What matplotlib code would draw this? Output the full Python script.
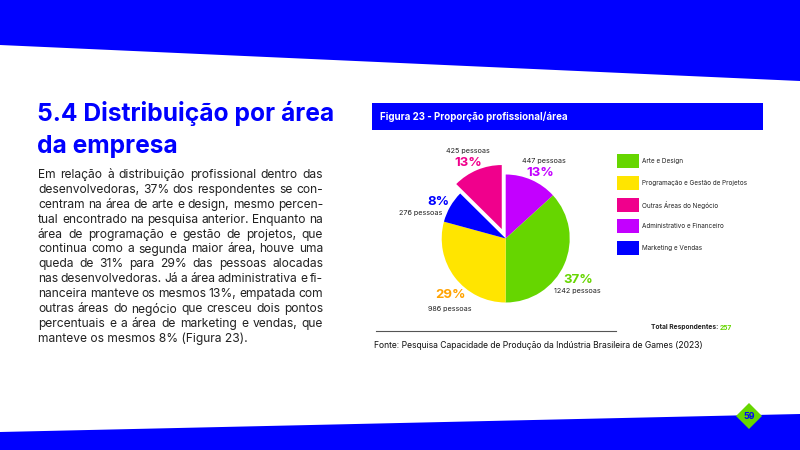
import matplotlib.pyplot as plt
from matplotlib.patches import Polygon, Rectangle

# data
areas = ['Administrativo e Financeiro', 'Arte e Design', 'Programação e Gestão de Projetos',
         'Marketing e Vendas', 'Outras Áreas do Negócio']
pessoas = [447, 1242, 986, 276, 425]
pct_labels = ['13%', '37%', '29%', '8%', '13%']
colors = ['#C300FF', '#66D600', '#FFE500', '#0000FF', '#F0008C']
label_colors = ['#C300FF', '#66D600', '#FFA200', '#0000FF', '#F0008C']
explode = [0, 0, 0, 0, 0.16]
legend_order = ['Arte e Design', 'Programação e Gestão de Projetos', 'Outras Áreas do Negócio',
                'Administrativo e Financeiro', 'Marketing e Vendas']
total_resp = 257

title_lines = ['5.4 Distribuição por área', 'da empresa']
body_lines = [
    'Em relação à distribuição profissional dentro das',
    'desenvolvedoras, 37% dos respondentes se con-',
    'centram na área de arte e design, mesmo percen-',
    'tual encontrado na pesquisa anterior. Enquanto na',
    'área de programação e gestão de projetos, que',
    'continua como a segunda maior área, houve uma',
    'queda de 31% para 29% das pessoas alocadas',
    'nas desenvolvedoras. Já a área administrativa e fi-',
    'nanceira manteve os mesmos 13%, empatada com',
    'outras áreas do negócio que cresceu dois pontos',
    'percentuais e a área de marketing e vendas, que',
    'manteve os mesmos 8% (Figura 23).',
]

BLUE = '#0000FF'
FONT = 'Inter'
W, H = 800, 450

fig = plt.figure(figsize=(8, 4.5), dpi=100)
bg = fig.add_axes([0, 0, 1, 1])
bg.set_xlim(0, W)
bg.set_ylim(H, 0)
bg.axis('off')

# slanted bands
bg.add_patch(Polygon([(0, 0), (W, 0), (W, 81), (0, 45)], closed=True, color=BLUE, lw=0))
bg.add_patch(Polygon([(0, 432), (W, 414), (W, H), (0, H)], closed=True, color=BLUE, lw=0))
bg.add_patch(Polygon([(749, 403), (762, 416), (749, 429), (736, 416)], closed=True,
                     color='#66D600', lw=0))
bg.text(749, 416.5, '59', ha='center', va='center', fontsize=6.5, color=BLUE,
        fontweight='bold', family=FONT)

# title
for i, t in enumerate(title_lines):
    bg.text(37, 113 + i * 34, t, ha='left', va='center', fontsize=17.7, color=BLUE,
            fontweight='bold', family=FONT)

# justified body text
fig.canvas.draw()
rend = fig.canvas.get_renderer()
x0, x1 = 38, 323
body_kw = dict(fontsize=8.7, color='#222222', family=FONT, va='center', ha='left')
for i, line in enumerate(body_lines):
    y = 175 + i * 14.9
    if i == len(body_lines) - 1:
        bg.text(x0, y, line, **body_kw)
        continue
    words = line.split(' ')
    objs = [bg.text(0, y, w, **body_kw) for w in words]
    widths = [o.get_window_extent(rend).width for o in objs]
    gap = max((x1 - x0 - sum(widths)) / (len(words) - 1), 2.0)
    x = x0
    for o, w in zip(objs, widths):
        o.set_x(x)
        x += w + gap

# figure header
bg.add_patch(Rectangle((372, 103), 391, 27, color=BLUE, lw=0))
bg.text(380, 117, 'Figura 23 - Proporção profissional/área', ha='left', va='center',
        fontsize=7.0, color='white', fontweight='bold', family=FONT)

# pie
cx, cy, r = 505.7, 238.5, 64.0
half = 100
pax = fig.add_axes([(cx - half) / W, 1 - (cy + half) / H, 2 * half / W, 2 * half / H])
wedges, _ = pax.pie(pessoas, colors=colors, startangle=90, counterclock=False,
                    explode=explode, radius=1.0, wedgeprops=dict(lw=0))
lim = half / r
pax.set_xlim(-lim, lim)
pax.set_ylim(-lim, lim)
pax.set_aspect('equal')
pax.axis('off')

# slice labels (pixel positions)
label_pos = [((544, 161), (540, 173)),   # admin
             ((577, 291), (578, 280)),   # arte
             ((450, 309), (451, 295)),   # prog
             ((421, 213), (438, 202)),   # marketing
             ((468, 151), (468, 163))]   # outras
for n, pl, lc, (pp, cp) in zip(pessoas, pct_labels, label_colors, label_pos):
    bg.text(pp[0], pp[1], f'{n} pessoas', ha='center', va='center', fontsize=5.2,
            color='#222222', family=FONT)
    bg.text(cp[0], cp[1], pl, ha='center', va='center', fontsize=9.5, color=lc,
            fontweight='bold', family=FONT)

# legend
for i, name in enumerate(legend_order):
    c = colors[areas.index(name)]
    y = 161 + i * 21.8
    bg.add_patch(Rectangle((617, y - 7), 22, 14, color=c, lw=0))
    bg.text(642, y, name, ha='left', va='center', fontsize=4.6, color='#222222',
            family=FONT)

# footer
bg.plot([376, 616], [330.5, 330.5], color='#555555', lw=0.8)
t1 = bg.text(651, 327.5, 'Total Respondentes: ', ha='left', va='center', fontsize=4.8,
             color='#222222', fontweight='bold', family=FONT)
fig.canvas.draw()
bb = t1.get_window_extent(rend)
bg.text(bb.x1, 327.5, str(total_resp), ha='left', va='center', fontsize=4.8,
        color='#66D600', fontweight='bold', family=FONT)
bg.text(374, 346, 'Fonte: Pesquisa Capacidade de Produção da Indústria Brasileira de Games (2023)',
        ha='left', va='center', fontsize=6.2, color='#111111', family=FONT)

fig.savefig('out.png', dpi=100)
